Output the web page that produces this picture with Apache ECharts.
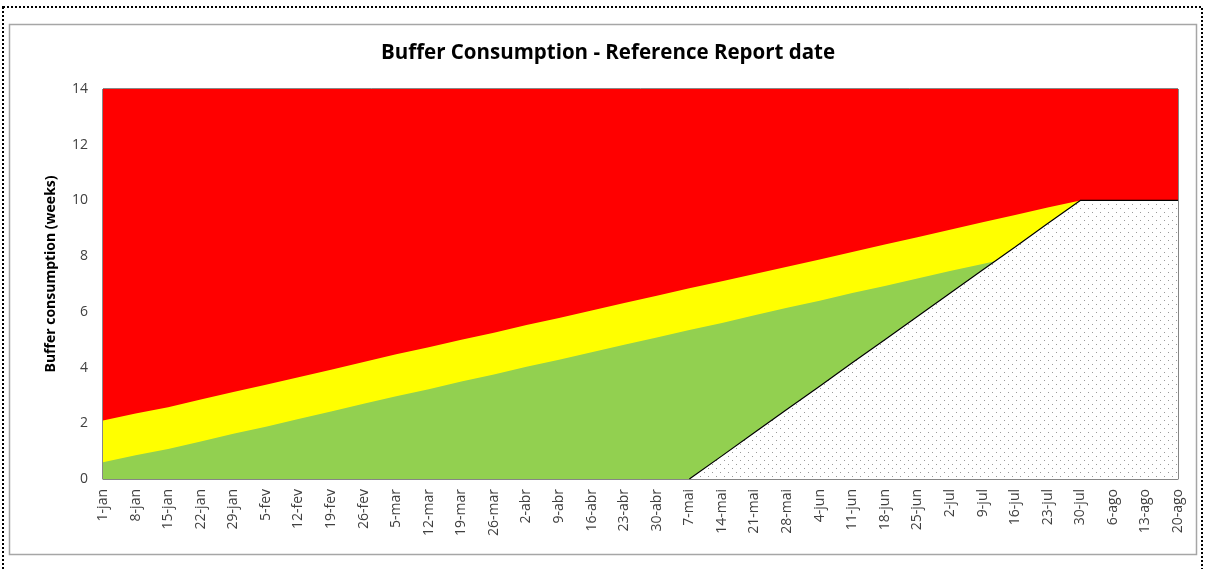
<!DOCTYPE html>
<html>
<head>
<meta charset="utf-8">
<script src="https://cdn.jsdelivr.net/npm/echarts@6/dist/echarts.min.js"></script>
<style>html,body{margin:0;padding:0;background:#fff;}#c{width:1206px;height:569px;}</style>
</head>
<body>
<div id="c"></div>
<script>
const categories = ['1-jan','8-jan','15-jan','22-jan','29-jan','5-fev','12-fev','19-fev','26-fev','5-mar','12-mar','19-mar','26-mar','2-abr','9-abr','16-abr','23-abr','30-abr','7-mai','14-mai','21-mai','28-mai','4-jun','11-jun','18-jun','25-jun','2-jul','9-jul','16-jul','23-jul','30-jul','6-ago','13-ago','20-ago'];
const redTop = [14,14,14,14,14,14,14,14,14,14,14,14,14,14,14,14,14,14,14,14,14,14,14,14,14,14,14,14,14,14,14,14,14,14];
const yellowTop = [2.10,2.35,2.58,2.85,3.12,3.38,3.65,3.92,4.20,4.48,4.73,5.00,5.25,5.53,5.78,6.05,6.32,6.58,6.85,7.10,7.36,7.62,7.88,8.15,8.42,8.68,8.95,9.22,9.48,9.75,10.0,10.0,10.0,10.0];
const greenTop = [0.60,0.85,1.08,1.35,1.62,1.88,2.15,2.42,2.70,2.97,3.22,3.50,3.75,4.03,4.28,4.55,4.82,5.08,5.35,5.60,5.88,6.15,6.40,6.68,6.93,7.20,7.47,7.72,7.98,8.25,8.50,8.50,8.50,8.50];
const consumed = [null,null,null,null,null,null,null,null,null,null,null,null,null,null,null,null,null,null,0,0.83,1.67,2.5,3.33,4.17,5,5.83,6.67,7.5,8.33,9.17,10,10,10,10];
const yTicks = [0,2,4,6,8,10,12,14];

const pat = document.createElement('canvas');
pat.width = 8; pat.height = 8;
const g = pat.getContext('2d');
g.fillStyle = '#ffffff'; g.fillRect(0,0,8,8);
g.fillStyle = '#9a9a9a'; g.fillRect(0,0,1,1); g.fillRect(4,4,1,1);

const FONT = '"Open Sans", "Liberation Sans", sans-serif';
const chart = echarts.init(document.getElementById('c'), null, {renderer:'canvas'});
const areaSeries = (name, data, color) => ({
  name, type:'line', data, symbol:'none', silent:true,
  lineStyle:{width:0}, areaStyle:{color, opacity:1}, z:2
});
chart.setOption({
  animation:false,
  backgroundColor:'#ffffff',
  grid:{left:103, right:28, top:89, bottom:90, show:true, borderColor:'#111', borderWidth:1, backgroundColor:'transparent'},
  graphic:[
    {type:'rect', shape:{x:3, y:7, width:1199, height:570}, style:{fill:null, stroke:'#000', lineWidth:2, lineDash:[2,2]}, z:0},
    {type:'rect', shape:{x:9.5, y:24.5, width:1187, height:530}, style:{fill:null, stroke:'#a6a6a6', lineWidth:1.5}, z:0},
    {type:'text', x:608, y:53, style:{text:'Buffer Consumption - Reference Report date', font:'bold 20.5px "Open Sans"', fill:'#000', textAlign:'center', textVerticalAlign:'middle'}, z:10},
    {type:'text', x:51, y:274, rotation:Math.PI/2, style:{text:'Buffer consumption (weeks)', font:'bold 14px "Open Sans"', fill:'#000', textAlign:'center', textVerticalAlign:'middle'}, z:10}
  ],
  xAxis:{
    type:'category', data:categories, boundaryGap:false,
    axisLine:{lineStyle:{color:'#868686', width:1}},
    axisTick:{show:false},
    axisLabel:{rotate:90, interval:0, color:'#404040', fontSize:14, fontFamily:FONT, margin:10},
    splitLine:{show:false}
  },
  yAxis:{
    type:'value', min:0, max:14, interval:2,
    axisLine:{show:true, lineStyle:{color:'#868686', width:1}},
    axisTick:{show:false},
    splitLine:{show:false},
    axisLabel:{color:'#404040', fontSize:14, fontFamily:FONT, margin:15, formatter:v=>yTicks.includes(v)?String(v):''}
  },
  series:[
    areaSeries('Red', redTop, '#FF0000'),
    areaSeries('Yellow', yellowTop, '#FFFF00'),
    areaSeries('Green', greenTop, '#92D050'),
    {name:'Consumed', type:'line', data:consumed, symbol:'none', silent:true,
     lineStyle:{color:'#000', width:1.2}, areaStyle:{color:{image:pat, repeat:'repeat'}, opacity:1}, z:3}
  ]
});
</script>
</body>
</html>
